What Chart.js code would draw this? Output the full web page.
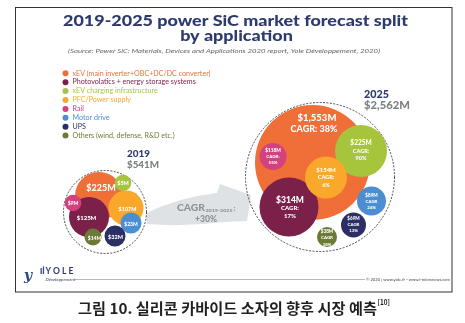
<!DOCTYPE html>
<html>
<head>
<meta charset="utf-8">
<script src="https://cdn.jsdelivr.net/npm/chart.js@4.4.1/dist/chart.umd.min.js"></script>
<style>
  html, body { margin: 0; padding: 0; background: #fff; }
  canvas { display: block; }
</style>
</head>
<body>
<canvas id="sicChart" width="465" height="323"></canvas>
<script>
const categories = ['xEV (main inverter+OBC+DC/DC converter)', 'Photovolatics + energy storage systems',
  'xEV charging infrastructure', 'PFC/Power supply', 'Rail', 'Motor drive', 'UPS', 'Others (wind, defense, R&D etc.)'];
const years = ['2019', '2025'];
const totals = [541, 2562];
const values2019 = [225, 125, 5, 107, 9, 23, 32, 14];
const values2025 = [1553, 314, 225, 154, 118, 89, 69, 38];
const cagr2025 = [38, 17, 90, 6, 55, 24, 13, 18];
const totalCagr = 30;

const colors = ['#f06e37', '#7b2149', '#a7c43d', '#f9a82b', '#d4417f', '#4b8fd2', '#2b2f66', '#6b7b35'];
const navy = '#2e3a6e';

// packed bubble layout: centre x, centre y, radius (px)
const pos2019 = [[99,196,24],[89,217,20],[123,183,8.3],[126,208,17.5],[73,203,8.3],[131,223,10.5],[115,236,10.5],[93,237,8.5]];
const pos2025 = [[312.5,162.5,57.5],[289,207,29.5],[361,151,26],[326,177.5,21],[273,156.5,13.5],[371.5,201,14.5],[353.5,225,12.5],[327,237,10]];
const rings = [[105,212,41.5],[320,177,74.5]];
const yearLabelOffset = [[22,-58],[44,-82]];
// label styles: 2019 [dx, dy, size]; 2025 [valueSize, subSize, gap, dx, dy]
const lab2019 = [[2,-8,9],[-2.5,1,6],[0,0,5.5],[1.5,1,5.5],[0,0,5],[0,1,5],[0.5,1.5,5.5],[1.5,1,5]];
const lab2025 = [[9.5,9,11.5,4.5,-38.75],[8.5,6,8,1,1],[6.5,5.5,7.7,0,0],[6,5.5,7.5,0,0],[4.8,4.5,6.2,0,0.3],[4.6,4.4,5.8,0,0.5],[4.6,4.4,6,0,0],[4.6,4.4,6.6,0,0.7]];

function drawText(ctx, s, x, y, font, color, align, sx, base) {
  ctx.save();
  ctx.font = font;
  ctx.fillStyle = color;
  ctx.textAlign = align || 'center';
  ctx.textBaseline = base || 'middle';
  ctx.translate(x, y);
  ctx.scale(sx || 1, 1);
  ctx.fillText(s, 0, 0);
  ctx.restore();
}
function fitScale(ctx, s, font, width) {
  ctx.font = font;
  return width / ctx.measureText(s).width;
}
const money = v => '$' + v.toLocaleString('en-US') + 'M';

const ringIndex = categories.length;
const datasets = categories.map((name, i) => ({
  label: name,
  data: [
    { x: pos2019[i][0], y: pos2019[i][1], r: pos2019[i][2], v: values2019[i] },
    { x: pos2025[i][0], y: pos2025[i][1], r: pos2025[i][2], v: values2025[i] }
  ],
  backgroundColor: colors[i],
  borderWidth: 0,
  order: categories.length - i,
  clip: false
}));
datasets.push({
  label: 'total',
  data: rings.map((p, j) => ({ x: p[0], y: p[1], r: p[2], v: totals[j] })),
  backgroundColor: 'rgba(0,0,0,0)',
  borderWidth: 0,
  order: 99,
  clip: false
});

const decor = {
  id: 'decor',
  beforeDraw(chart) {
    const ctx = chart.ctx;
    ctx.save();
    ctx.fillStyle = '#fff';
    ctx.fillRect(0, 0, chart.width, chart.height);
    ctx.strokeStyle = '#333';
    ctx.lineWidth = 1;
    ctx.strokeRect(15.5, 7.5, 436.5, 284.5);

    // titles
    const tf = '900 15px Lato';
    const t1 = '2019-2025 power SiC market forecast split';
    const ts = fitScale(ctx, t1, tf, 345);
    drawText(ctx, t1, 235.5, 26, tf, navy, 'center', ts, 'alphabetic');
    drawText(ctx, 'by application', 236.5, 41, tf, navy, 'center', ts, 'alphabetic');
    const sub = '(Source: Power SiC: Materials, Devices and Applications 2020 report, Yole Développement, 2020)';
    const sf = 'italic 400 6.5px Lato';
    drawText(ctx, sub, 68, 50.5, sf, '#666', 'left', fitScale(ctx, sub, sf, 312));

    // legend
    const lf = '400 7px Lato';
    const ls = fitScale(ctx, categories[0], lf, 138);
    categories.forEach((c, i) => {
      const y = 73.3 + i * 8.9;
      ctx.beginPath();
      ctx.fillStyle = colors[i];
      ctx.arc(65.5, y, 3, 0, Math.PI * 2);
      ctx.fill();
      drawText(ctx, c, 72.5, y, lf, colors[i], 'left', ls);
    });

    // footer
    ctx.strokeStyle = '#8c8c8c';
    ctx.lineWidth = 0.6;
    ctx.beginPath();
    ctx.moveTo(75, 279.5);
    ctx.lineTo(365, 279.5);
    ctx.stroke();
    drawText(ctx, 'y', 24, 276, 'italic 700 14px "DejaVu Serif"', '#2d4a8c', 'left');
    ctx.fillStyle = '#2d4a8c';
    ctx.fillRect(40.5, 268, 1.3, 6);
    ctx.fillRect(42.8, 266.5, 1.3, 7.5);
    const yf = '700 9px Lato';
    drawText(ctx, 'Y O L E', 45.5, 271.5, yf, navy, 'left', fitScale(ctx, 'Y O L E', yf, 28));
    drawText(ctx, 'Développement', 45.5, 279.3, 'italic 400 4px Lato', navy, 'left', 1.15);
    const cp = '© 2020 | www.yole.fr - www.i-micronews.com';
    const cf = '400 4.3px Lato';
    drawText(ctx, cp, 450, 279.5, cf, '#444', 'right', fitScale(ctx, cp, cf, 84));

    // caption
    const cap = '그림 10. 실리콘 카바이드 소자의 향후 시장 예측';
    const kf = '700 15px "Noto Sans CJK KR"';
    drawText(ctx, cap, 78, 308, kf, '#231f20', 'left', fitScale(ctx, cap, kf, 299));
    drawText(ctx, '[10]', 377.5, 302, '700 7.5px "Noto Sans CJK KR"', '#231f20', 'left', 0.85);
    ctx.restore();
  },
  beforeDatasetsDraw(chart) {
    const ctx = chart.ctx;
    const xs = chart.scales.x, ys = chart.scales.y;
    const P = (x, y) => [xs.getPixelForValue(x), ys.getPixelForValue(y)];
    ctx.save();
    // growth arrow
    ctx.fillStyle = '#dfe2e5';
    ctx.beginPath();
    ctx.moveTo(...P(146, 213));
    ctx.quadraticCurveTo(...P(180, 197), ...P(217, 193));
    ctx.lineTo(...P(220, 184));
    ctx.lineTo(...P(251, 195));
    ctx.lineTo(...P(247, 221));
    ctx.lineTo(...P(224, 222));
    ctx.quadraticCurveTo(...P(185, 227), ...P(147, 224));
    ctx.closePath();
    ctx.fill();
    const gray = '#8d9298';
    drawText(ctx, 'CAGR', 177, 208, '900 9px Lato', gray, 'left', fitScale(ctx, 'CAGR', '900 9px Lato', 28));
    drawText(ctx, years[0] + '-' + years[1], 205.5, 211, '900 4.5px Lato', gray, 'left', fitScale(ctx, '2019-2025', '900 4.5px Lato', 27));
    drawText(ctx, ':', 233.5, 208, '900 8px Lato', gray, 'left');
    const pc = '+' + totalCagr + '%';
    drawText(ctx, pc, 206, 219, '900 8.5px Lato', gray, 'center', fitScale(ctx, pc, '900 8.5px Lato', 22));

    // dashed totals rings
    const meta = chart.getDatasetMeta(ringIndex);
    meta.data.forEach(el => {
      ctx.beginPath();
      ctx.setLineDash([2, 1.4]);
      ctx.lineWidth = 0.8;
      ctx.strokeStyle = '#222';
      ctx.arc(el.x, el.y, el.options.radius, 0, Math.PI * 2);
      ctx.stroke();
    });
    ctx.restore();
  },
  afterDatasetsDraw(chart) {
    const ctx = chart.ctx;
    ctx.save();
    categories.forEach((c, i) => {
      const meta = chart.getDatasetMeta(i);
      const a = meta.data[0], b = meta.data[1];
      const l = lab2019[i];
      drawText(ctx, money(values2019[i]), a.x + l[0], a.y + l[1], `900 ${l[2]}px Lato`, '#fff');
      const s = lab2025[i];
      const x = b.x + s[3], y = b.y + s[4];
      if (i === 0) {
        drawText(ctx, money(values2025[i]), x, y - s[2] / 2, `900 ${s[0]}px Lato`, '#fff');
        drawText(ctx, 'CAGR: ' + cagr2025[i] + '%', x - 3, y + s[2] / 2, `900 ${s[1]}px Lato`, '#fff');
      } else {
        const colon = i < 5 ? ':' : '';
        drawText(ctx, money(values2025[i]), x, y - s[2], `900 ${s[0]}px Lato`, '#fff');
        drawText(ctx, 'CAGR' + colon, x, y, `900 ${s[1]}px Lato`, '#fff');
        drawText(ctx, cagr2025[i] + '%', x, y + s[2], `900 ${s[1]}px Lato`, '#fff');
      }
    });
    // year totals
    const rm = chart.getDatasetMeta(ringIndex);
    const sizes = [9.5, 10.5];
    const widths = [[23, 32], [25, 46]];
    rm.data.forEach((el, j) => {
      const x = el.x + yearLabelOffset[j][0], y = el.y + yearLabelOffset[j][1];
      const f = `900 ${sizes[j]}px Lato`;
      drawText(ctx, years[j], x, y, f, navy, 'left', fitScale(ctx, years[j], f, widths[j][0]));
      drawText(ctx, money(totals[j]), x, y + 10.5, f, '#7d8084', 'left', fitScale(ctx, money(totals[j]), f, widths[j][1]));
    });
    ctx.restore();
  }
};

const ctx = document.querySelector('#sicChart').getContext('2d');
const sicChart = new Chart(ctx, {
  type: 'bubble',
  data: { datasets: datasets },
  options: {
    responsive: false,
    animation: false,
    events: [],
    layout: { padding: 0, autoPadding: false },
    scales: {
      x: { type: 'linear', min: 0, max: 465, display: false },
      y: { type: 'linear', min: 0, max: 323, reverse: true, display: false }
    },
    plugins: {
      legend: { display: false },
      tooltip: { enabled: false }
    }
  },
  plugins: [decor]
});
</script>
</body>
</html>
